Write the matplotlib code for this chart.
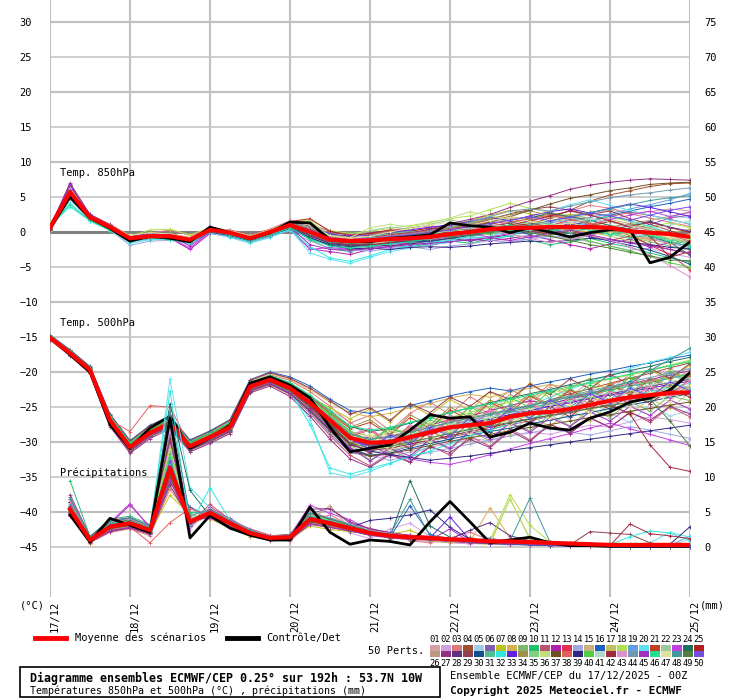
import numpy as np
import matplotlib
matplotlib.use("Agg")
import matplotlib.pyplot as plt
from matplotlib.lines import Line2D
from matplotlib.patches import Rectangle

# forecast steps (hours since 17/12 00Z)
hours = list(range(0, 193, 6))
precip_hours = hours[1:]
day_labels = ["17/12", "18/12", "19/12", "20/12", "21/12", "22/12", "23/12", "24/12", "25/12"]

# ---- Temp 850 hPa ----
t850_mean = [0.6, 5.7, 2.1, 0.7, -0.9, -0.6, -0.6, -1.1, 0.3, -0.1, -0.9, 0.0, 1.0, 0.0, -1.1, -1.3, -1.2,
             -1.0, -0.9, -0.7, -0.3, 0.0, 0.4, 0.6, 0.6, 0.7, 0.7, 0.7, 0.6, 0.1, -0.1, -0.3, -0.7]
t850_ctrl = [0.5, 5.0, 2.0, 0.5, -1.3, -0.6, -0.9, -1.4, 0.7, -0.1, -1.0, -0.1, 1.4, 1.3, -1.1, -1.4, -1.4,
             -0.9, -0.7, -0.4, 1.3, 0.9, 0.7, -0.1, 0.6, 0.0, -0.7, -0.1, 0.3, 0.3, -4.4, -3.6, -1.4]
t850_members = [
    [0.8, 6.0, 2.3, 0.9, -0.7, -0.4, -0.5, -1.0, 0.4, 0.0, -0.8, 0.2, 1.2, 0.3, -0.8, -1.0, -0.6, -0.2, 0.1, 0.5, 0.9, 1.2, 1.6, 1.9, 2.1, 2.0, 2.4, 2.8, 3.1, 2.7, 2.9, 3.3, 3.0],
    [0.4, 5.2, 1.9, 0.6, -1.1, -0.8, -0.9, -1.4, 0.1, -0.3, -1.2, -0.3, 0.6, -0.6, -1.9, -2.2, -2.0, -2.3, -1.9, -1.5, -1.2, -0.8, -0.9, -1.3, -1.0, -0.6, -0.9, -1.4, -2.0, -2.6, -2.3, -3.1, -3.6],
    [0.9, 6.3, 2.2, 0.8, -0.6, -0.2, 0.3, -0.5, 0.5, 0.2, -0.6, 0.1, 1.3, 0.6, -0.4, -0.7, -0.9, -0.4, -0.6, 0.2, 0.8, 0.5, 1.1, 1.8, 1.5, 2.2, 3.0, 3.8, 3.4, 2.6, 2.0, 1.4, 0.8],
    [0.3, 5.5, 2.0, 0.5, -1.2, -0.7, -0.8, -1.3, 0.2, -0.2, -1.0, -0.2, 0.9, -0.3, -1.5, -1.6, -1.8, -1.5, -1.7, -1.2, -0.9, -0.4, 0.0, 0.5, 1.1, 2.0, 3.1, 4.4, 5.3, 5.9, 6.5, 6.9, 7.0],
    [0.5, 4.6, 1.8, 0.4, -1.5, -1.0, -0.9, -1.2, 0.0, -0.4, -1.3, -0.5, 0.5, -0.8, -2.0, -2.4, -2.1, -1.8, -1.4, -1.6, -1.1, -0.7, -0.3, 0.1, -0.4, -0.9, -0.6, 0.2, 0.6, 1.2, 1.6, 2.3, 2.0],
    [0.7, 6.1, 2.2, 0.7, -0.9, -0.5, -0.4, -1.0, 0.6, 0.0, -0.7, 0.1, 1.1, 0.2, -0.9, -1.2, -1.3, -1.0, -0.8, -0.9, -0.2, 0.3, 0.2, 0.8, 1.3, 0.9, 1.4, 1.0, 0.6, 0.2, 1.1, 2.0, 2.4],
    [0.6, 5.8, 2.4, 1.0, -0.5, -0.1, -0.3, -0.8, 0.3, 0.1, -0.7, 0.3, 1.5, 0.8, -0.3, -0.6, -0.4, 0.0, -0.3, 0.4, 1.0, 1.6, 2.4, 3.1, 2.6, 2.1, 2.5, 1.9, 1.4, 0.9, 0.5, -0.3, -0.9],
    [1.0, 5.9, 2.1, 0.6, -0.8, -0.4, -0.2, -0.9, 0.4, 0.2, -0.5, 0.2, 1.4, 0.6, -0.7, -1.0, -0.8, -0.3, 0.2, -0.3, 0.4, 1.2, 1.9, 2.2, 1.7, 1.1, 0.4, -0.2, 0.3, -0.5, -1.2, -0.8, -1.5],
    [0.2, 5.4, 2.0, 0.8, -1.0, -0.6, -0.6, -1.2, 0.2, -0.1, -0.9, -0.1, 1.0, -0.2, -1.3, -1.5, -1.1, -1.4, -1.0, -0.6, -0.9, -0.5, 0.1, -0.3, -0.8, -0.4, 0.0, 0.5, -0.1, -0.7, -1.4, -2.0, -2.6],
    [0.7, 5.0, 2.3, 0.9, -0.7, -0.3, -0.7, -1.5, 0.1, -0.5, -1.1, 0.0, 0.7, -1.1, -2.4, -2.8, -2.2, -1.9, -2.1, -1.7, -1.3, -1.6, -1.0, -0.6, -1.2, -1.8, -1.4, -0.9, -1.6, -2.2, -3.0, -3.7, -4.3],
    [0.5, 6.4, 2.5, 1.1, -0.6, -0.2, -0.4, -1.1, 0.5, 0.3, -0.4, 0.4, 1.6, 1.1, 0.1, -0.4, -0.3, 0.2, 0.6, 0.9, 0.5, 0.9, 1.5, 1.2, 2.0, 2.6, 2.1, 1.5, 2.2, 2.8, 2.4, 1.8, 1.1],
    [0.4, 6.6, 2.2, 0.7, -1.3, -0.9, -0.9, -2.5, -0.2, -0.7, -1.4, -0.6, 0.3, -2.4, -2.8, -3.2, -2.5, -2.0, -1.6, -1.9, -1.4, -1.0, -1.3, -0.9, -0.5, -1.1, -1.8, -2.4, -1.7, -1.0, -2.2, -1.5, -2.0],
    [0.8, 5.6, 2.0, 0.5, -0.9, -0.5, -0.5, -1.0, 0.4, 0.0, -0.9, 0.2, 1.3, 0.5, -0.6, -0.8, -1.0, -0.6, -0.2, 0.3, 0.1, 0.6, 1.0, 0.7, 0.2, 0.9, 1.7, 1.2, 0.4, -0.4, -1.9, -3.2, -5.4],
    [0.1, 4.8, 1.6, 0.3, -1.9, -1.3, -1.2, -1.6, -0.1, -0.6, -1.5, -0.7, 0.2, -1.3, -2.3, -2.6, -2.7, -2.4, -2.1, -2.5, -2.0, -1.7, -1.2, -1.5, -1.0, -0.5, -0.9, -0.3, 0.4, -0.2, -0.8, -1.6, -2.3],
    [0.9, 6.2, 2.3, 0.9, -0.7, -0.3, -0.6, -1.1, 0.3, -0.1, -0.8, 0.1, 1.2, 0.4, -0.9, -1.1, -0.9, -0.5, -0.7, -0.2, 0.6, 1.3, 0.9, 0.4, 0.8, 1.4, 1.9, 2.5, 1.8, 1.2, 1.7, 2.2, 2.9],
    [0.6, 5.3, 2.1, 0.8, -0.8, -0.7, -0.5, -0.9, 0.7, 0.1, -0.6, 0.0, 0.8, -0.4, -1.5, -1.9, -2.0, -1.6, -1.3, -0.8, -0.4, 0.1, 0.5, 0.2, -0.3, 0.3, 0.9, 1.6, 2.4, 3.0, 3.6, 4.1, 4.7],
    [0.3, 5.7, 1.9, 0.6, -1.0, -0.6, -0.7, -1.3, 0.2, -0.3, -1.0, -0.2, 0.9, -0.1, -1.2, -1.4, -1.6, -1.1, -0.8, -1.2, -0.6, -0.2, 0.3, 0.9, 1.5, 1.0, 0.4, 0.0, -0.6, -1.3, -0.7, -0.1, 0.4],
    [1.2, 6.0, 2.4, 0.8, -0.6, 0.3, 0.4, -0.4, 0.6, 0.2, -0.5, 0.3, 1.5, 1.7, 0.2, -0.2, 0.1, 0.5, 0.9, 1.4, 1.9, 2.3, 3.2, 4.1, 3.4, 2.8, 2.2, 2.9, 2.1, 1.5, 0.7, 1.3, 0.6],
    [0.6, 5.9, 2.0, 0.7, -1.1, -0.8, -0.6, -1.0, 0.3, -0.2, -1.0, -0.1, 1.0, 0.1, -1.0, -1.4, -1.3, -1.1, -1.3, -0.9, -0.7, -0.4, -0.1, 0.4, 0.8, 1.3, 1.7, 2.1, 2.6, 3.3, 3.9, 4.6, 5.5],
    [0.5, 4.2, 1.5, 0.2, -1.6, -1.1, -1.0, -1.7, -0.1, -0.8, -1.6, -0.8, 0.4, -3.0, -3.9, -4.5, -3.6, -2.8, -2.3, -1.8, -1.5, -0.9, -0.6, 0.2, 1.6, 3.0, 3.9, 4.6, 3.8, 3.1, 2.4, 1.7, 1.2],
    [0.7, 5.5, 2.2, 0.6, -0.9, -0.5, -0.3, -0.8, 0.5, 0.1, -0.8, 0.1, 1.1, 0.3, -0.8, -1.1, -1.0, -0.7, -0.4, 0.0, 0.3, -0.2, 0.1, 0.6, 0.2, -0.3, 0.1, -0.6, -1.2, -0.6, -1.8, -2.5, -3.1],
    [0.4, 6.1, 2.1, 0.9, -0.7, -0.6, -0.6, -1.2, 0.3, 0.0, -0.9, 0.0, 1.3, 1.5, -0.4, -0.8, 0.2, 0.7, 0.4, 1.1, 1.7, 1.3, 2.0, 1.4, 0.9, 1.5, 2.1, 1.6, 1.0, 0.4, -0.2, -0.9, -1.4],
    [0.6, 5.8, 2.0, 0.7, -1.0, -0.6, -0.8, -2.3, 0.0, -0.5, -1.2, -0.4, 0.6, -2.5, -2.2, -2.5, -2.3, -1.8, -1.5, -1.1, -0.8, -0.3, -0.7, -0.2, 0.5, 1.0, 0.6, 1.1, 1.8, 2.4, 3.0, 2.2, 2.8],
    [0.2, 5.1, 1.8, 0.5, -1.3, -0.9, -0.8, -1.3, 0.1, -0.3, -1.1, -0.3, 0.7, -0.5, -1.7, -1.9, -1.5, -1.2, -1.5, -1.1, -0.6, 0.1, 0.7, 1.3, 2.0, 2.7, 2.2, 1.7, 0.9, 0.3, -0.6, -1.5, -3.3],
    [0.8, 6.5, 2.3, 0.8, -0.8, -0.3, -0.5, -1.0, 0.4, 0.1, -0.7, 0.2, 1.5, 1.9, 0.1, -0.5, -0.2, 0.3, 0.1, 0.6, 0.2, 0.7, 1.3, 0.8, 1.2, 0.7, 0.2, 0.9, 1.5, 0.8, 1.4, 0.6, 0.0],
    [0.5, 5.4, 2.0, 0.6, -1.0, -0.7, -0.6, -1.1, 0.2, -0.2, -1.0, -0.1, 0.9, -0.3, -1.4, -1.7, -1.6, -1.3, -1.0, -0.7, -1.0, -0.6, -0.2, 0.3, -0.1, -0.6, -1.1, -0.5, 0.2, -0.4, -1.0, -1.7, -1.2],
    [0.7, 7.0, 2.5, 1.0, -0.7, -0.4, -0.5, -1.0, 0.5, 0.0, -0.8, 0.1, 1.3, 0.5, -0.7, -1.0, -0.8, -0.4, -0.1, 0.4, 1.2, 1.8, 2.5, 3.5, 4.4, 5.2, 6.1, 6.7, 7.1, 7.4, 7.6, 7.5, 7.4],
    [0.3, 6.7, 2.1, 0.7, -1.1, -0.7, -0.8, -1.3, 0.1, -0.4, -1.1, -0.3, 0.8, -0.6, -1.6, -2.0, -1.7, -2.0, -1.7, -1.3, -0.9, -1.3, -0.8, -0.4, 0.1, 0.6, 1.2, 0.8, 0.3, 0.9, 1.5, 0.7, 0.1],
    [0.6, 5.6, 2.2, 0.8, -0.9, -0.5, -0.6, -1.1, 0.3, -0.1, -0.9, 0.0, 1.0, 0.3, -0.9, -1.2, -1.1, -0.8, -0.5, -0.2, 0.4, 1.0, 1.8, 2.6, 3.2, 3.6, 3.1, 2.5, 3.0, 1.9, 1.1, 0.2, -0.8],
    [0.4, 5.2, 1.9, 0.5, -1.2, -0.9, -0.9, -1.4, 0.0, -0.5, -1.3, -0.5, 0.5, -0.9, -1.8, -2.1, -1.9, -1.6, -1.2, -1.4, -0.9, -0.5, -0.1, 0.3, 0.7, 0.4, -0.2, -0.7, -1.3, -1.9, -2.6, -3.5, -4.6],
    [0.8, 5.9, 2.1, 0.7, -0.8, -0.4, -0.3, -0.9, 0.4, 0.0, -0.7, 0.1, 1.2, 0.6, -0.5, -0.9, -0.7, -0.2, 0.1, -0.4, 0.1, 0.5, -0.2, 0.3, 0.9, 0.5, -0.1, 0.6, -0.3, -0.9, -0.4, -1.1, -1.8],
    [0.9, 3.6, 1.6, 0.4, -1.4, -0.9, -1.1, -1.6, 0.0, -0.6, -1.4, -0.5, 0.3, -2.1, -3.7, -4.2, -3.4, -2.5, -2.0, -1.5, -1.2, -0.6, -1.0, -0.5, 0.4, 1.1, 0.6, 1.5, 2.3, 1.6, 0.8, -0.2, -1.0],
    [0.5, 6.2, 2.4, 0.9, -0.6, -0.2, -0.4, -0.9, 0.5, 0.1, -0.6, 0.2, 1.4, 0.9, -0.3, -0.6, -0.5, -0.1, 0.3, 0.7, 1.0, 1.5, 2.1, 1.6, 2.3, 2.9, 3.3, 2.7, 3.4, 4.0, 3.5, 2.9, 2.2],
    [0.6, 5.5, 2.0, 0.6, -1.0, -0.6, -0.7, -1.2, 0.3, -0.2, -1.0, -0.2, 0.9, -0.2, -1.2, -1.4, -1.3, -0.9, -0.6, -0.2, 0.5, 1.2, 1.9, 2.5, 3.0, 2.4, 1.8, 1.3, 0.7, 1.2, 0.5, -0.1, -0.6],
    [0.7, 5.8, 2.2, 0.8, -0.8, -0.5, -0.5, -1.0, 0.4, 0.0, -0.8, 0.1, 1.1, 0.2, -1.0, -1.2, -1.2, -0.9, -1.1, -0.6, -0.3, 0.2, 0.6, 0.2, 0.7, 1.2, 0.8, 0.3, -0.2, 0.4, -0.3, -1.0, -1.6],
    [0.2, 6.3, 2.3, 0.9, -0.8, -0.4, -0.6, -1.1, 0.2, -0.1, -0.9, 0.0, 1.2, 1.6, -0.7, -0.8, 0.6, 1.1, 0.7, 1.3, 2.0, 2.9, 2.3, 1.8, 1.1, 0.6, 0.2, 0.8, 0.3, -0.3, 0.2, -0.5, -1.1],
    [0.5, 5.7, 2.1, 0.7, -0.9, -0.6, -0.6, -1.1, 0.3, -0.1, -0.9, 0.0, 1.0, 0.1, -1.1, -1.3, -1.2, -1.0, -0.8, -0.5, 0.1, 0.7, 1.4, 2.2, 3.1, 4.0, 4.8, 5.3, 5.9, 6.3, 6.8, 7.0, 7.1],
    [0.8, 6.0, 2.2, 0.8, -0.7, -0.4, -0.4, -0.9, 0.4, 0.0, -0.7, 0.1, 1.1, 0.4, -0.8, -1.0, -0.9, -0.5, -0.2, 0.2, 0.6, 0.3, 0.8, 1.4, 1.9, 2.4, 1.8, 1.1, 1.6, 0.9, 0.2, -0.5, -1.3],
    [0.4, 5.3, 1.9, 0.5, -1.2, -0.8, -0.9, -1.4, 0.0, -0.5, -1.2, -0.4, 0.6, -0.8, -1.9, -2.4, -2.3, -2.5, -2.2, -2.1, -2.2, -2.0, -1.7, -1.5, -1.3, -1.4, -1.2, -0.9, -1.1, -1.5, -1.8, -2.2, -2.4],
    [0.6, 5.6, 2.0, 0.6, -1.0, -0.6, -0.7, -1.2, 0.2, -0.2, -1.0, -0.1, 0.9, 0.0, -1.2, -1.5, -1.4, -1.2, -0.9, -0.6, -0.2, 0.1, -0.3, 0.2, 0.6, -0.1, -0.7, -1.3, -2.0, -2.7, -3.5, -4.4, -5.0],
    [0.7, 5.9, 2.1, 0.7, -0.9, -0.5, -0.6, -1.1, 0.3, -0.1, -0.9, 0.0, 1.0, 0.2, -1.0, -1.3, -1.1, -0.8, -0.6, -0.3, 0.2, 0.6, 1.1, 0.7, 0.3, 0.8, 1.3, 1.9, 1.4, 0.9, 0.4, 1.0, 1.6],
    [0.3, 5.4, 1.9, 0.6, -1.1, -0.7, -0.8, -1.3, 0.1, -0.3, -1.1, -0.3, 0.8, -0.4, -1.5, -1.8, -1.9, -1.5, -1.2, -0.8, -0.5, -0.1, 0.4, 1.0, 1.6, 2.3, 3.0, 2.4, 1.6, 0.7, -0.6, -3.6, -2.8],
    [0.6, 5.7, 2.0, 0.7, -1.0, -0.6, -0.6, -1.1, 0.2, -0.1, -0.9, 0.0, 1.0, -0.1, -1.2, -1.4, -1.3, -1.0, -0.7, -1.0, -0.6, -0.2, 0.2, -0.3, -0.9, -1.5, -1.0, -0.5, -1.2, -2.1, -3.3, -4.8, -6.4],
    [0.5, 5.6, 2.0, 0.6, -1.0, -0.6, -0.6, -1.1, 0.3, -0.1, -0.9, 0.0, 0.9, 0.0, -1.0, -1.2, -0.9, -0.6, -0.3, 0.1, 0.7, 1.4, 2.2, 3.0, 3.3, 3.0, 3.7, 4.3, 4.9, 5.3, 5.6, 6.0, 6.3],
    [0.7, 6.8, 2.3, 0.8, -0.8, -0.6, -0.5, -2.0, 0.1, -0.4, -1.2, -0.4, 0.7, -1.8, -2.5, -2.6, -2.4, -2.1, -1.8, -1.6, -1.4, -1.1, -0.8, -1.2, -0.7, -0.2, 0.3, -0.4, -1.0, -1.6, -2.0, -2.5, -3.0],
    [0.9, 3.9, 1.7, 0.3, -1.3, -0.8, -1.0, -1.5, 0.1, -0.4, -1.2, -0.4, 0.6, -1.0, -2.0, -2.3, -2.0, -1.7, -1.4, -0.9, -0.5, 0.0, 0.5, 1.0, 0.6, 0.1, 0.7, 0.3, -0.4, 0.2, -0.5, -1.3, -2.1],
    [0.6, 5.8, 2.2, 0.9, -0.5, -0.1, -0.3, -0.8, 0.5, 0.2, -0.6, 0.3, 1.4, 1.0, -0.5, -0.9, -0.6, 0.0, 0.5, 1.0, 1.4, 1.0, 1.6, 2.1, 1.5, 0.9, 1.3, 0.6, 0.0, 0.5, -0.1, -0.8, -0.3],
    [0.4, 5.5, 2.0, 0.6, -1.1, -0.7, -0.7, -1.2, 0.2, -0.3, -1.0, -0.2, 0.8, -0.3, -1.4, -1.6, -1.4, -1.1, -1.3, -0.8, -0.3, 0.3, 0.0, 0.5, 1.0, 1.6, 2.2, 2.8, 3.3, 3.9, 4.5, 4.9, 5.2],
    [0.5, 5.6, 2.1, 0.7, -0.9, -0.5, -0.6, -1.1, 0.3, -0.1, -0.9, 0.0, 1.0, 0.1, -1.0, -1.3, -1.1, -0.9, -0.6, -0.3, -0.7, -0.4, 0.0, 0.4, -0.1, -0.6, -1.2, -1.8, -2.3, -2.9, -3.4, -4.0, -4.1],
    [0.6, 6.0, 2.2, 0.8, -0.8, -0.5, -0.5, -1.0, 0.4, 0.0, -0.8, 0.1, 1.1, 0.3, -0.9, -1.1, -1.0, -0.7, -0.4, -0.1, 0.3, 0.8, 1.2, 1.7, 2.2, 1.6, 2.1, 2.7, 2.3, 1.7, 2.4, 3.1, 3.6],
]

# ---- Temp 500 hPa ----
t500_mean = [-15.1, -17.3, -19.7, -26.9, -30.7, -28.7, -27.3, -30.6, -29.3, -27.9, -22.1, -21.1, -22.3, -24.4, -26.9, -29.4, -30.1,
             -30.0, -29.3, -28.6, -27.9, -27.6, -27.3, -26.4, -25.9, -25.7, -25.3, -24.7, -24.1, -23.6, -23.3, -23.0, -22.9]
t500_ctrl = [-15.0, -17.5, -20.0, -27.5, -30.9, -28.0, -26.3, -30.9, -29.4, -27.6, -21.6, -20.7, -21.9, -23.7, -27.9, -31.4, -30.9,
             -30.4, -28.3, -26.1, -26.6, -26.4, -29.3, -28.6, -27.3, -28.0, -28.3, -26.6, -25.7, -24.3, -23.7, -22.6, -20.1]
t500_members = [
    [-15.0, -17.1, -19.5, -26.5, -30.4, -28.3, -27.0, -30.2, -29.0, -27.5, -21.8, -20.8, -21.9, -23.8, -25.4, -27.1, -29.6, -28.0, -28.9, -26.3, -27.4, -24.9, -25.8, -23.2, -24.6, -22.1, -23.5, -21.4, -22.6, -20.3, -21.7, -19.6, -20.4],
    [-15.3, -17.6, -20.0, -27.4, -31.2, -29.1, -27.8, -31.1, -29.8, -28.4, -22.7, -21.6, -23.0, -25.4, -28.2, -30.9, -31.8, -32.1, -31.4, -30.8, -30.1, -29.5, -29.8, -29.1, -28.6, -28.9, -28.2, -27.6, -27.9, -27.1, -26.4, -26.8, -27.3],
    [-14.9, -17.0, -19.4, -26.3, -30.1, -27.9, -26.6, -30.0, -28.7, -27.1, -21.5, -20.4, -21.2, -22.8, -24.9, -27.3, -26.2, -28.4, -25.9, -24.3, -26.1, -23.5, -25.2, -22.4, -24.1, -21.7, -23.0, -24.6, -21.9, -20.7, -22.8, -19.9, -21.5],
    [-15.2, -17.4, -19.8, -27.1, -30.9, -28.9, -27.5, -30.8, -29.5, -28.1, -22.3, -21.3, -22.6, -24.9, -27.5, -29.9, -30.6, -30.4, -29.7, -28.9, -28.1, -27.5, -26.7, -25.8, -24.9, -24.0, -23.1, -22.4, -21.6, -20.9, -20.2, -19.4, -18.7],
    [-15.1, -17.3, -19.6, -26.8, -30.6, -28.6, -27.2, -30.5, -29.2, -27.8, -22.0, -21.0, -22.2, -24.2, -26.7, -29.1, -31.2, -29.3, -30.4, -28.2, -29.9, -27.1, -28.6, -26.0, -27.5, -25.1, -26.8, -24.3, -25.9, -27.2, -24.6, -26.3, -25.5],
    [-15.0, -17.2, -19.7, -27.0, -31.0, -28.8, -27.4, -30.7, -29.6, -28.2, -22.4, -21.4, -22.9, -25.6, -28.8, -31.5, -32.0, -31.4, -30.6, -29.8, -29.3, -28.7, -28.2, -27.5, -27.0, -26.3, -25.8, -25.2, -24.6, -23.9, -23.4, -22.7, -22.1],
    [-15.4, -17.5, -19.9, -27.3, -31.1, -29.0, -27.7, -30.9, -29.7, -28.3, -22.5, -21.5, -22.4, -23.6, -25.1, -26.7, -25.3, -27.1, -24.6, -26.2, -23.9, -25.5, -22.8, -24.4, -21.6, -23.7, -22.2, -20.9, -22.8, -21.3, -19.7, -21.2, -19.0],
    [-14.8, -16.9, -19.3, -26.2, -30.0, -27.8, -26.5, -29.9, -28.6, -27.0, -21.3, -20.2, -21.0, -22.5, -24.3, -25.8, -26.4, -25.9, -25.1, -24.5, -23.7, -23.2, -23.6, -22.9, -22.3, -21.8, -22.2, -21.5, -21.0, -20.4, -19.8, -19.1, -18.5],
    [-15.2, -17.4, -19.8, -27.2, -31.0, -28.9, -27.6, -30.8, -29.4, -28.0, -22.2, -21.2, -22.5, -24.7, -27.3, -30.2, -32.6, -31.0, -32.4, -29.6, -31.1, -28.5, -29.8, -27.2, -28.4, -26.1, -27.7, -25.3, -26.5, -24.2, -25.6, -23.4, -24.1],
    [-15.1, -17.3, -19.7, -26.9, -30.7, -28.7, -27.3, -30.6, -29.3, -27.9, -22.1, -21.1, -22.3, -24.5, -27.0, -29.6, -30.4, -30.1, -29.4, -28.6, -27.8, -27.2, -26.5, -25.7, -25.1, -24.5, -23.9, -23.2, -22.6, -22.0, -21.5, -20.9, -20.3],
    [-15.3, -17.6, -20.1, -27.6, -31.4, -29.3, -27.9, -31.2, -30.0, -28.6, -22.8, -21.8, -23.2, -25.9, -29.1, -31.9, -33.4, -31.6, -32.8, -30.5, -31.9, -29.2, -30.6, -28.1, -29.7, -27.4, -28.8, -26.5, -27.9, -25.7, -27.2, -25.0, -26.4],
    [-14.9, -17.1, -19.5, -26.6, -30.4, -28.4, -27.1, -30.4, -29.1, -27.6, -21.9, -20.9, -22.0, -24.0, -26.4, -28.8, -29.5, -29.2, -28.4, -27.6, -26.8, -26.3, -25.5, -24.8, -24.1, -24.6, -23.8, -23.1, -22.4, -21.7, -21.1, -20.4, -19.8],
    [-15.0, -17.2, -19.6, -26.8, -30.5, -28.5, -27.2, -30.5, -29.2, -27.7, -22.0, -21.0, -22.1, -24.1, -26.6, -29.0, -28.1, -30.2, -27.6, -29.1, -26.4, -28.0, -25.3, -26.9, -24.6, -26.2, -23.8, -25.4, -23.0, -24.6, -22.3, -23.7, -21.8],
    [-15.2, -17.5, -20.0, -27.5, -31.3, -29.2, -27.9, -31.0, -29.9, -28.5, -22.6, -21.7, -23.1, -25.7, -28.5, -31.2, -31.9, -32.6, -32.0, -31.5, -30.9, -30.3, -29.7, -29.1, -28.7, -28.1, -28.6, -29.0, -28.4, -27.8, -28.3, -28.9, -29.5],
    [-15.1, -17.3, -19.8, -27.0, -30.8, -28.8, -27.4, -30.7, -29.4, -28.0, -22.2, -21.2, -22.4, -24.4, -26.8, -29.3, -30.6, -28.7, -29.9, -27.3, -28.8, -26.2, -27.6, -25.0, -26.7, -24.3, -25.8, -23.5, -24.9, -22.6, -24.2, -21.8, -23.4],
    [-14.7, -16.8, -19.2, -26.0, -29.8, -27.6, -26.3, -29.7, -28.4, -26.8, -21.1, -20.0, -20.7, -22.0, -23.9, -25.5, -25.9, -25.2, -24.8, -24.1, -23.4, -22.8, -22.3, -22.7, -22.0, -21.4, -20.9, -20.3, -19.8, -19.2, -18.7, -18.1, -17.6],
    [-15.3, -17.5, -19.9, -27.3, -31.1, -29.0, -27.6, -30.9, -29.6, -28.2, -22.4, -21.4, -22.8, -25.2, -27.9, -30.5, -29.4, -31.6, -29.0, -30.8, -28.1, -29.7, -27.0, -28.9, -26.2, -27.8, -25.4, -27.0, -24.5, -26.1, -23.8, -25.2, -22.9],
    [-15.0, -17.2, -19.6, -26.7, -30.5, -28.5, -27.1, -30.4, -29.1, -27.6, -21.9, -20.9, -22.0, -23.9, -26.2, -28.5, -29.2, -28.8, -28.0, -27.3, -26.5, -25.8, -25.0, -24.3, -23.6, -22.9, -22.3, -21.6, -21.0, -20.4, -19.7, -19.0, -18.3],
    [-15.1, -17.4, -19.7, -26.9, -30.8, -28.7, -27.3, -30.6, -29.3, -27.9, -22.1, -21.1, -22.3, -24.3, -26.8, -29.4, -31.0, -28.9, -30.2, -27.6, -29.0, -26.4, -27.8, -25.1, -26.5, -23.9, -25.2, -22.6, -24.0, -21.4, -22.9, -20.3, -21.5],
    [-15.2, -17.5, -19.9, -27.2, -31.0, -28.9, -27.5, -30.8, -29.5, -28.1, -22.3, -21.3, -22.7, -26.8, -34.4, -35.0, -34.2, -33.1, -31.9, -30.6, -29.4, -28.2, -27.1, -26.0, -24.8, -23.6, -22.5, -21.4, -20.4, -19.5, -18.6, -17.9, -17.2],
    [-15.0, -17.1, -19.5, -26.5, -30.3, -28.2, -26.9, -30.3, -29.0, -27.4, -21.7, -20.7, -21.8, -23.6, -25.9, -28.1, -27.2, -29.0, -26.5, -28.1, -25.4, -26.9, -24.3, -25.8, -23.4, -24.9, -22.6, -24.0, -21.8, -23.3, -21.0, -22.4, -20.6],
    [-15.3, -17.6, -20.0, -27.4, -31.2, -29.1, -27.7, -31.0, -29.7, -28.3, -22.6, -21.6, -23.0, -25.3, -27.9, -30.7, -31.5, -31.2, -30.5, -29.8, -29.1, -28.5, -27.9, -27.3, -26.8, -26.2, -25.7, -25.3, -24.8, -24.3, -23.9, -23.4, -22.9],
    [-15.1, -17.3, -19.8, -27.0, -30.9, -28.8, -27.4, -30.7, -29.4, -28.0, -22.2, -21.2, -22.5, -24.6, -27.2, -29.8, -30.6, -31.7, -32.4, -32.9, -33.2, -32.6, -31.8, -31.0, -30.2, -29.5, -28.8, -28.0, -27.3, -28.1, -28.9, -29.7, -30.5],
    [-14.9, -17.0, -19.4, -26.4, -30.2, -28.1, -26.8, -30.1, -28.8, -27.3, -21.6, -20.6, -21.6, -23.4, -25.6, -27.8, -28.5, -28.1, -27.3, -26.5, -25.8, -25.1, -24.4, -23.7, -23.1, -22.5, -21.8, -21.1, -20.5, -19.8, -19.2, -18.5, -17.9],
    [-15.2, -17.4, -19.8, -27.1, -30.9, -28.9, -27.5, -30.8, -29.5, -28.1, -22.3, -21.3, -22.6, -24.8, -27.4, -30.0, -31.6, -29.6, -30.9, -28.4, -29.8, -27.1, -28.5, -26.0, -27.3, -24.9, -26.4, -24.1, -25.3, -23.2, -24.5, -22.4, -23.6],
    [-15.0, -17.2, -19.6, -26.8, -30.6, -28.6, -27.2, -30.5, -29.2, -27.8, -22.0, -21.0, -22.2, -24.2, -26.5, -28.9, -29.6, -29.3, -28.6, -27.9, -27.1, -26.5, -25.9, -25.3, -24.7, -24.1, -23.5, -22.9, -22.4, -21.8, -21.3, -20.7, -20.2],
    [-15.4, -17.7, -20.2, -27.8, -31.6, -29.5, -28.1, -31.4, -30.2, -28.8, -23.0, -22.0, -23.5, -26.3, -29.6, -32.4, -33.6, -31.8, -32.9, -30.7, -31.5, -29.6, -30.8, -28.4, -29.9, -27.5, -28.7, -26.6, -27.9, -25.8, -26.9, -24.9, -26.0],
    [-15.1, -17.3, -19.7, -26.9, -30.7, -28.7, -27.3, -30.6, -29.3, -27.9, -22.1, -21.1, -22.4, -24.5, -27.1, -29.7, -30.5, -30.2, -29.5, -28.8, -28.1, -27.4, -26.8, -26.1, -25.5, -24.8, -24.2, -23.7, -23.1, -22.6, -22.0, -21.5, -21.0],
    [-14.8, -16.9, -19.3, -26.1, -29.9, -27.7, -26.4, -29.8, -28.5, -26.9, -21.2, -20.1, -20.9, -22.3, -24.1, -26.0, -25.1, -26.9, -24.5, -25.8, -23.6, -24.9, -22.8, -23.9, -21.7, -23.2, -21.0, -22.4, -20.3, -21.8, -19.5, -20.9, -18.8],
    [-15.3, -17.5, -20.0, -27.4, -31.2, -29.1, -27.8, -31.1, -29.8, -28.4, -22.7, -21.6, -23.0, -25.5, -28.3, -31.0, -31.9, -31.6, -30.9, -30.2, -29.6, -29.0, -28.5, -28.0, -27.4, -26.9, -26.3, -25.8, -25.2, -24.7, -24.2, -23.6, -23.1],
    [-15.0, -17.2, -19.6, -26.7, -30.5, -28.4, -27.1, -30.4, -29.1, -27.6, -21.9, -20.9, -21.9, -23.8, -26.1, -28.4, -29.9, -28.0, -29.1, -26.8, -28.2, -25.9, -27.0, -24.6, -26.1, -23.9, -25.0, -23.0, -24.3, -22.1, -23.5, -21.4, -22.5],
    [-15.2, -17.4, -19.9, -27.1, -31.0, -28.9, -27.5, -30.8, -29.5, -28.2, -22.4, -21.4, -22.8, -27.5, -33.7, -34.6, -33.8, -33.0, -32.1, -31.3, -30.2, -29.1, -28.3, -27.4, -26.6, -25.9, -25.2, -24.6, -24.0, -23.4, -22.8, -22.2, -21.6],
    [-15.1, -17.3, -19.7, -26.9, -30.7, -28.7, -27.3, -30.6, -29.3, -27.9, -22.1, -21.1, -22.3, -24.4, -26.9, -29.5, -30.3, -30.0, -29.3, -28.6, -27.9, -27.3, -26.7, -26.1, -25.5, -24.9, -24.4, -23.8, -23.3, -22.8, -22.3, -21.8, -21.3],
    [-14.9, -17.0, -19.4, -26.4, -30.2, -28.2, -26.8, -30.2, -28.9, -27.4, -21.6, -20.6, -21.7, -23.5, -25.7, -27.9, -26.8, -28.9, -26.1, -27.6, -25.0, -26.5, -24.0, -25.4, -23.1, -24.7, -22.4, -23.9, -21.6, -23.0, -20.8, -22.1, -20.0],
    [-15.2, -17.5, -19.9, -27.3, -31.1, -29.0, -27.6, -30.9, -29.6, -28.2, -22.4, -21.4, -22.7, -25.0, -27.7, -30.3, -31.1, -30.8, -30.1, -29.4, -28.7, -28.1, -27.5, -26.9, -26.3, -25.7, -25.1, -24.5, -24.0, -23.5, -23.0, -22.5, -22.0],
    [-15.0, -17.2, -19.6, -26.7, -30.5, -28.5, -27.1, -30.4, -29.1, -27.7, -21.9, -20.9, -22.0, -24.0, -26.3, -28.6, -30.1, -28.3, -29.4, -27.2, -28.5, -26.0, -27.2, -25.1, -26.4, -24.2, -25.6, -23.3, -24.7, -22.5, -23.8, -21.6, -22.9],
    [-15.3, -17.6, -20.1, -27.5, -31.3, -29.2, -27.8, -31.1, -29.9, -28.5, -22.7, -21.7, -23.1, -25.6, -28.4, -31.2, -32.0, -31.7, -31.1, -30.5, -29.9, -29.4, -28.9, -28.4, -27.9, -27.5, -27.0, -26.5, -26.1, -25.6, -25.2, -24.7, -24.3],
    [-15.1, -17.3, -19.7, -26.9, -28.5, -24.8, -25.0, -30.6, -29.3, -27.9, -22.1, -21.1, -22.3, -24.3, -26.7, -29.2, -28.3, -30.4, -27.8, -29.3, -26.7, -28.1, -25.5, -27.0, -24.4, -25.9, -23.5, -25.0, -22.7, -24.1, -21.8, -23.3, -21.0],
    [-15.2, -17.4, -19.8, -27.0, -30.9, -28.8, -27.4, -30.7, -29.4, -28.0, -22.2, -21.2, -22.6, -24.8, -27.5, -30.3, -31.3, -31.8, -32.2, -32.6, -32.3, -32.0, -31.6, -31.2, -30.8, -30.4, -30.0, -29.6, -29.2, -28.8, -28.4, -28.0, -27.6],
    [-14.9, -17.1, -19.5, -26.6, -30.4, -28.3, -27.0, -30.3, -29.0, -27.5, -21.8, -20.8, -21.9, -23.9, -26.2, -28.6, -30.3, -27.8, -29.2, -26.4, -27.7, -25.0, -26.3, -23.6, -25.1, -22.7, -24.0, -21.8, -23.1, -20.7, -22.2, -19.9, -21.0],
    [-15.1, -17.3, -19.7, -26.9, -30.7, -28.7, -27.3, -30.6, -29.3, -27.9, -22.1, -21.1, -22.3, -24.4, -26.8, -29.4, -30.1, -29.8, -29.1, -28.4, -27.7, -27.1, -26.5, -25.9, -25.3, -24.7, -24.1, -23.5, -22.9, -22.4, -21.9, -21.4, -20.9],
    [-15.2, -17.5, -19.9, -27.2, -31.0, -28.9, -27.5, -30.8, -29.6, -28.2, -22.4, -21.4, -22.7, -25.1, -27.8, -30.4, -31.2, -30.9, -30.3, -29.7, -29.1, -28.5, -27.9, -27.3, -26.7, -26.2, -25.7, -25.2, -24.7, -26.0, -30.4, -33.6, -34.2],
    [-15.0, -17.2, -19.6, -26.8, -30.6, -28.6, -27.2, -30.5, -29.2, -27.8, -22.0, -21.0, -22.2, -24.2, -26.6, -29.0, -28.0, -30.1, -27.5, -29.0, -26.3, -27.9, -25.4, -26.8, -24.5, -25.9, -23.6, -25.1, -22.8, -24.3, -22.0, -23.5, -21.2],
    [-15.1, -17.3, -19.7, -26.9, -30.7, -28.7, -27.3, -30.6, -29.3, -27.9, -22.1, -21.1, -22.3, -24.4, -26.9, -29.3, -30.0, -29.7, -29.0, -28.3, -27.6, -26.9, -26.2, -25.5, -24.8, -24.1, -23.4, -22.7, -22.1, -21.4, -20.8, -20.1, -19.5],
    [-15.3, -17.6, -20.0, -27.4, -31.2, -29.1, -27.7, -31.0, -29.8, -28.4, -22.6, -21.6, -23.0, -25.4, -28.1, -30.8, -32.7, -30.9, -32.0, -29.6, -30.9, -28.4, -29.5, -27.3, -28.6, -26.5, -27.8, -25.7, -27.0, -24.9, -26.2, -24.0, -25.3],
    [-14.8, -17.0, -19.4, -26.3, -30.1, -28.0, -26.7, -30.0, -28.7, -27.2, -21.5, -20.5, -21.5, -23.3, -25.5, -27.7, -28.3, -27.9, -27.2, -26.5, -25.8, -25.1, -24.5, -23.9, -23.3, -22.7, -22.1, -21.5, -20.9, -20.3, -19.7, -19.1, -18.5],
    [-15.1, -17.4, -19.8, -27.0, -30.8, -28.8, -27.4, -30.7, -29.4, -28.0, -22.2, -21.2, -22.5, -24.6, -27.2, -29.9, -28.9, -31.2, -28.6, -30.0, -27.4, -28.9, -26.3, -27.7, -25.2, -26.6, -24.5, -25.9, -23.7, -25.0, -22.8, -24.3, -21.9],
    [-15.0, -17.2, -19.6, -26.7, -30.5, -28.5, -27.1, -30.4, -29.1, -27.7, -21.9, -20.9, -22.1, -24.1, -26.5, -28.9, -29.6, -29.3, -28.6, -27.9, -27.2, -26.6, -26.0, -25.4, -24.8, -24.2, -23.6, -23.0, -22.4, -21.3, -19.8, -18.2, -16.6],
    [-15.2, -17.4, -19.8, -27.1, -30.9, -28.8, -27.4, -30.7, -29.5, -28.1, -22.3, -21.3, -22.6, -24.7, -27.3, -30.1, -30.9, -30.6, -30.0, -29.4, -28.8, -28.2, -27.7, -27.2, -26.7, -26.2, -25.7, -25.2, -24.8, -24.3, -23.9, -27.0, -30.6],
    [-15.1, -17.3, -19.7, -26.9, -30.7, -28.7, -27.3, -30.6, -29.3, -27.9, -22.1, -21.1, -22.3, -24.4, -26.9, -29.4, -31.1, -29.0, -30.3, -27.9, -29.2, -26.5, -27.9, -25.2, -26.6, -24.0, -25.5, -23.1, -24.4, -22.3, -23.6, -21.4, -22.7],
]

# ---- Precipitation (mm, from +6h) ----
rr_mean = [5.4, 1.0, 2.9, 3.4, 2.4, 11.3, 3.6, 4.9, 3.4, 2.0, 1.3, 1.4, 4.0, 3.4, 2.7, 2.0,
           1.6, 1.4, 1.3, 1.1, 1.0, 0.8, 0.8, 0.7, 0.6, 0.5, 0.4, 0.3, 0.3, 0.3, 0.3, 0.3]
rr_ctrl = [4.6, 0.7, 4.1, 3.1, 2.1, 18.4, 1.3, 4.5, 2.7, 1.7, 1.0, 1.0, 5.7, 2.1, 0.4, 1.0,
           0.8, 0.3, 3.6, 6.5, 3.6, 0.6, 1.0, 1.4, 0.6, 0.2, 0.2, 0.1, 0.1, 0.1, 0.1, 0.1]
rr_members = [
    [5.1, 0.9, 2.6, 3.0, 2.1, 10.2, 3.1, 4.5, 3.0, 1.6, 0.9, 1.0, 3.2, 2.8, 2.4, 1.6, 1.3, 1.0, 0.8, 0.6, 0.5, 0.4, 0.3, 0.3, 0.2, 0.2, 0.1, 0.1, 0.1, 0.0, 0.0, 0.0],
    [6.2, 1.2, 3.5, 4.1, 2.8, 14.5, 2.5, 5.6, 3.8, 2.2, 1.1, 1.7, 5.1, 3.9, 2.0, 1.2, 2.6, 3.4, 1.5, 0.7, 0.4, 0.9, 1.2, 0.6, 0.3, 0.2, 0.1, 0.3, 0.2, 0.1, 0.0, 0.1],
    [4.4, 0.6, 2.1, 2.6, 1.6, 8.3, 4.2, 4.1, 2.9, 2.5, 1.5, 0.8, 3.6, 4.6, 3.1, 2.7, 1.9, 0.9, 0.6, 1.3, 2.1, 1.0, 0.5, 0.4, 0.3, 0.6, 0.4, 0.2, 0.1, 0.2, 0.1, 0.0],
    [5.8, 1.4, 3.1, 3.5, 2.6, 12.7, 3.8, 5.2, 3.6, 2.1, 1.4, 1.6, 4.4, 3.0, 2.6, 2.3, 1.2, 1.7, 1.0, 0.8, 1.4, 0.6, 0.9, 0.5, 0.4, 0.3, 0.2, 0.1, 0.3, 0.1, 0.2, 0.0],
    [5.0, 0.8, 2.4, 2.9, 2.4, 9.6, 3.3, 4.6, 3.2, 1.8, 1.2, 1.3, 3.9, 3.2, 2.9, 2.1, 1.5, 1.1, 1.6, 1.2, 0.7, 0.5, 0.4, 0.7, 0.5, 0.3, 0.2, 0.1, 0.0, 0.1, 0.2, 1.1],
    [7.1, 1.1, 3.7, 4.0, 2.2, 16.3, 3.0, 5.3, 4.1, 2.4, 1.6, 1.2, 4.8, 5.5, 3.4, 2.6, 2.1, 1.6, 1.3, 1.0, 0.9, 1.3, 0.7, 0.5, 0.3, 0.2, 0.1, 0.2, 0.1, 0.0, 0.1, 0.0],
    [4.8, 0.5, 2.8, 3.3, 2.0, 7.4, 4.6, 4.0, 2.7, 1.5, 1.0, 1.1, 3.0, 2.5, 2.2, 1.9, 1.8, 2.4, 1.2, 0.9, 0.6, 0.4, 6.9, 1.1, 0.4, 0.3, 0.2, 0.1, 0.1, 0.0, 0.0, 0.0],
    [5.6, 1.0, 3.0, 3.6, 2.5, 11.8, 3.5, 4.8, 3.3, 2.0, 1.3, 1.5, 4.1, 3.6, 2.8, 2.4, 1.4, 1.2, 0.9, 0.7, 0.8, 5.6, 1.3, 0.6, 0.4, 0.3, 0.2, 0.1, 0.1, 0.1, 0.0, 0.0],
    [5.3, 0.7, 2.5, 3.1, 2.3, 10.9, 3.7, 4.4, 3.1, 1.9, 1.2, 1.4, 3.8, 3.3, 2.5, 2.0, 1.7, 1.3, 1.1, 0.8, 0.6, 0.5, 0.4, 0.3, 0.2, 0.3, 0.1, 0.1, 0.0, 0.1, 0.0, 0.0],
    [9.5, 1.5, 4.0, 4.4, 3.2, 13.4, 4.9, 5.0, 3.5, 2.3, 1.5, 1.8, 4.5, 4.0, 3.0, 2.2, 1.6, 1.5, 1.4, 1.1, 0.9, 0.7, 0.6, 0.4, 0.3, 0.2, 0.1, 0.1, 0.1, 0.0, 0.0, 0.0],
    [5.7, 1.3, 3.2, 3.7, 2.7, 12.2, 3.4, 6.1, 3.9, 2.6, 1.7, 1.3, 4.2, 3.5, 2.7, 1.8, 1.5, 1.4, 1.2, 1.0, 0.8, 0.6, 0.5, 0.4, 0.3, 0.2, 0.2, 0.1, 0.3, 0.2, 0.1, 0.3],
    [6.5, 1.0, 3.3, 6.0, 2.9, 15.1, 3.2, 5.4, 3.7, 2.3, 1.3, 1.5, 4.3, 3.7, 2.3, 2.0, 1.6, 1.3, 1.0, 0.8, 0.6, 0.5, 0.4, 0.3, 0.2, 0.2, 0.1, 0.1, 0.1, 0.1, 0.0, 0.0],
    [4.9, 0.9, 2.7, 3.2, 2.2, 10.5, 3.6, 4.7, 3.4, 2.0, 1.2, 1.4, 3.9, 3.1, 2.6, 2.1, 1.6, 1.3, 1.2, 1.0, 0.9, 0.8, 0.7, 0.6, 0.5, 0.4, 0.3, 0.2, 0.1, 0.1, 0.0, 0.0],
    [5.2, 1.1, 2.9, 3.4, 2.4, 11.0, 3.9, 4.9, 3.3, 1.9, 1.3, 1.4, 3.7, 3.3, 2.8, 2.3, 1.7, 1.5, 1.3, 1.1, 1.0, 0.7, 0.6, 0.5, 0.4, 0.3, 0.2, 0.1, 0.1, 0.0, 0.0, 0.0],
    [6.0, 1.2, 3.4, 3.8, 2.6, 13.0, 3.5, 5.0, 3.6, 2.2, 1.4, 1.6, 4.6, 3.8, 3.0, 2.2, 1.8, 1.4, 1.1, 0.9, 0.7, 0.6, 0.5, 0.4, 0.3, 0.2, 0.1, 0.1, 0.0, 0.0, 0.0, 0.0],
    [4.6, 0.8, 2.3, 2.8, 1.9, 9.2, 5.7, 4.3, 2.8, 1.7, 1.1, 1.2, 3.3, 3.0, 2.3, 1.7, 1.4, 5.9, 1.8, 1.0, 0.7, 0.5, 0.4, 0.3, 0.2, 0.1, 0.1, 0.0, 0.0, 0.0, 0.0, 0.0],
    [5.5, 1.0, 3.0, 3.5, 2.5, 11.5, 3.6, 4.9, 3.4, 2.1, 1.3, 1.4, 4.0, 3.4, 2.7, 2.0, 1.6, 1.4, 1.3, 1.1, 1.0, 0.8, 0.8, 0.7, 0.6, 0.5, 0.4, 0.3, 0.3, 0.3, 0.3, 0.3],
    [6.3, 1.3, 3.6, 3.9, 2.8, 14.0, 3.3, 5.5, 3.8, 2.4, 1.5, 1.7, 4.7, 3.9, 3.2, 2.4, 1.9, 1.6, 1.4, 1.2, 1.0, 0.9, 7.5, 3.1, 0.7, 0.5, 0.3, 0.2, 0.1, 0.1, 0.0, 0.0],
    [5.4, 0.9, 2.8, 3.3, 2.3, 11.2, 3.7, 4.8, 3.3, 1.9, 1.2, 1.3, 3.9, 3.3, 2.6, 2.0, 1.5, 1.3, 1.2, 1.0, 0.9, 0.8, 0.7, 0.6, 0.5, 0.4, 0.3, 0.2, 0.2, 0.1, 0.2, 1.6],
    [5.9, 1.4, 3.3, 3.6, 2.6, 24.0, 8.5, 5.6, 3.5, 2.1, 1.4, 1.5, 4.1, 3.5, 2.8, 2.1, 1.7, 1.5, 1.4, 1.2, 1.1, 0.9, 0.8, 0.7, 0.6, 0.5, 0.4, 0.3, 0.4, 0.6, 2.1, 1.4],
    [4.7, 0.6, 2.5, 3.0, 2.0, 9.8, 3.4, 4.5, 3.1, 1.8, 1.1, 1.2, 3.6, 3.1, 2.5, 1.9, 1.5, 1.2, 1.1, 0.9, 0.8, 0.7, 0.6, 0.5, 0.4, 0.3, 0.2, 0.1, 0.1, 0.1, 0.0, 0.0],
    [5.3, 1.0, 2.9, 3.4, 2.4, 10.7, 3.6, 4.9, 3.4, 2.0, 1.3, 1.4, 4.0, 3.4, 2.7, 2.0, 1.6, 1.4, 1.3, 1.1, 1.0, 0.8, 0.8, 0.7, 0.6, 0.5, 0.4, 0.3, 0.3, 0.2, 0.2, 0.2],
    [6.8, 1.1, 3.5, 6.2, 2.7, 17.8, 3.2, 5.4, 3.7, 2.3, 1.4, 1.6, 6.0, 4.8, 3.9, 2.5, 1.8, 1.5, 1.3, 1.0, 0.9, 0.7, 0.6, 0.5, 0.4, 0.3, 0.2, 0.1, 0.1, 0.0, 0.0, 0.0],
    [5.0, 0.8, 2.6, 3.1, 2.1, 20.5, 8.1, 4.4, 3.0, 1.7, 1.1, 1.2, 3.4, 2.9, 2.4, 1.8, 1.4, 9.5, 3.0, 1.4, 0.9, 0.6, 0.5, 0.4, 0.3, 0.2, 0.1, 0.1, 0.0, 0.0, 0.0, 0.0],
    [5.6, 1.2, 3.1, 3.5, 2.5, 11.6, 3.7, 5.1, 3.5, 2.1, 1.3, 1.5, 4.2, 3.5, 2.8, 2.1, 1.7, 1.5, 1.3, 1.1, 1.0, 0.9, 0.8, 0.7, 0.6, 0.5, 0.4, 0.3, 0.3, 0.3, 0.2, 0.2],
    [5.2, 0.9, 2.7, 3.2, 2.2, 10.4, 3.5, 4.7, 3.2, 1.9, 1.2, 1.3, 3.8, 5.9, 2.6, 2.0, 1.6, 1.4, 1.2, 1.0, 0.9, 0.8, 0.7, 0.6, 0.5, 0.4, 0.3, 0.2, 0.2, 0.1, 0.1, 0.1],
    [7.5, 1.5, 3.8, 4.2, 3.0, 18.9, 3.0, 5.7, 3.9, 2.5, 1.6, 1.8, 5.4, 5.5, 3.6, 2.6, 2.0, 1.7, 1.5, 1.3, 1.1, 1.0, 0.9, 0.8, 0.7, 0.6, 0.5, 0.4, 0.3, 0.2, 0.1, 0.1],
    [5.4, 1.0, 2.9, 3.3, 2.4, 11.1, 3.6, 4.8, 3.4, 2.0, 1.3, 1.4, 4.0, 3.4, 2.7, 2.0, 1.6, 1.4, 1.3, 1.1, 2.4, 3.5, 1.6, 0.9, 0.6, 0.5, 0.4, 0.3, 0.2, 0.2, 0.1, 0.1],
    [4.5, 0.7, 2.2, 2.7, 1.8, 8.8, 3.9, 4.2, 2.9, 1.7, 1.0, 1.1, 3.3, 2.8, 2.3, 1.8, 1.4, 1.2, 1.1, 0.9, 0.8, 0.7, 0.6, 0.5, 0.4, 0.3, 2.2, 2.0, 1.8, 0.6, 0.2, 0.1],
    [5.7, 1.1, 3.2, 3.6, 2.6, 12.0, 3.5, 5.0, 3.5, 2.1, 1.4, 1.5, 4.2, 3.6, 2.8, 2.1, 1.7, 1.5, 1.4, 1.2, 1.0, 0.9, 0.8, 0.7, 0.6, 0.5, 0.4, 0.3, 0.3, 0.2, 0.2, 0.2],
    [5.1, 0.9, 2.8, 3.2, 2.3, 10.6, 3.7, 4.6, 3.3, 1.9, 1.2, 1.3, 3.8, 3.2, 2.6, 1.9, 1.5, 1.3, 1.2, 1.0, 0.9, 0.8, 0.7, 0.6, 0.5, 0.4, 0.3, 0.2, 0.2, 0.1, 0.1, 0.1],
    [6.1, 1.3, 3.4, 3.8, 2.7, 22.3, 3.1, 8.5, 3.8, 2.3, 1.5, 1.6, 4.5, 3.8, 3.0, 2.2, 1.8, 1.5, 1.4, 1.2, 1.1, 0.9, 0.8, 0.7, 0.6, 0.5, 0.4, 0.3, 1.5, 2.3, 2.0, 0.9],
    [5.3, 1.0, 2.9, 3.3, 2.4, 10.9, 3.6, 4.8, 3.4, 2.0, 1.3, 1.4, 3.9, 3.3, 2.7, 2.0, 1.6, 1.4, 1.3, 4.3, 1.0, 0.8, 0.8, 0.7, 0.6, 0.5, 0.4, 0.3, 0.3, 0.3, 0.3, 0.3],
    [5.8, 1.2, 3.1, 3.6, 2.6, 12.4, 3.4, 5.1, 3.6, 2.2, 1.4, 1.5, 4.3, 3.6, 2.9, 2.1, 1.7, 1.5, 1.3, 1.1, 1.0, 0.9, 0.8, 0.7, 0.6, 0.5, 0.4, 0.3, 0.2, 0.2, 0.1, 0.1],
    [4.8, 0.8, 2.5, 3.0, 2.1, 9.9, 3.7, 4.5, 3.1, 1.8, 1.1, 1.2, 3.5, 3.0, 2.5, 1.8, 1.4, 1.2, 1.1, 0.9, 0.8, 0.7, 0.6, 0.5, 0.4, 0.3, 0.2, 0.1, 0.1, 0.1, 0.0, 0.0],
    [5.5, 1.1, 3.0, 3.4, 2.5, 11.4, 3.6, 4.9, 3.4, 2.0, 1.3, 1.4, 4.0, 3.4, 2.7, 2.0, 1.6, 1.4, 1.3, 1.1, 1.0, 0.8, 6.8, 1.3, 0.6, 0.5, 0.4, 0.3, 0.3, 0.3, 0.3, 0.3],
    [6.4, 1.4, 3.5, 3.9, 2.8, 15.6, 3.3, 5.5, 3.8, 2.4, 1.5, 1.7, 4.8, 4.0, 3.1, 2.3, 1.8, 1.6, 1.4, 1.2, 1.1, 1.0, 0.9, 0.8, 0.7, 0.6, 0.5, 0.4, 0.3, 0.2, 0.2, 0.1],
    [4.9, 0.7, 2.4, 2.9, 0.6, 3.5, 5.5, 4.3, 3.0, 1.7, 1.1, 1.2, 3.4, 2.9, 2.4, 1.8, 1.4, 1.2, 1.1, 0.9, 0.8, 0.7, 0.6, 0.5, 0.4, 0.3, 0.2, 0.1, 0.1, 0.1, 0.0, 0.0],
    [5.6, 1.1, 3.1, 3.5, 2.5, 11.7, 3.6, 5.0, 3.5, 2.1, 1.4, 1.5, 4.2, 3.5, 2.8, 3.8, 4.1, 4.6, 5.3, 2.8, 1.1, 0.9, 0.8, 0.7, 0.6, 0.5, 0.4, 0.3, 0.3, 0.3, 0.4, 2.9],
    [5.2, 0.9, 2.7, 3.2, 2.3, 10.6, 3.6, 4.7, 3.3, 2.0, 1.2, 1.4, 3.9, 3.3, 2.6, 2.0, 1.5, 1.3, 1.2, 1.0, 0.9, 0.8, 0.7, 0.6, 0.5, 0.4, 0.3, 0.2, 0.2, 0.1, 0.1, 0.1],
    [5.7, 1.2, 3.2, 3.6, 2.6, 12.1, 3.5, 5.1, 3.6, 2.2, 1.4, 1.5, 4.3, 3.6, 2.9, 2.1, 1.7, 1.5, 1.4, 1.2, 1.0, 0.9, 0.8, 0.7, 0.6, 0.5, 0.4, 0.3, 0.3, 0.2, 0.2, 0.2],
    [5.0, 0.8, 2.6, 3.1, 2.2, 10.0, 3.7, 4.5, 3.2, 1.8, 1.2, 1.3, 3.6, 3.1, 2.5, 1.9, 1.5, 1.3, 1.2, 1.0, 0.9, 0.8, 0.7, 0.6, 0.5, 0.4, 0.3, 0.2, 3.3, 1.9, 1.6, 1.2],
    [6.6, 1.3, 3.6, 4.0, 2.9, 16.8, 3.2, 5.6, 3.9, 2.5, 1.6, 1.7, 5.0, 4.2, 3.3, 2.4, 1.9, 1.6, 1.5, 1.3, 1.1, 1.0, 0.9, 0.8, 0.7, 0.6, 0.5, 0.4, 0.3, 0.2, 0.1, 0.1],
    [5.4, 1.0, 2.9, 3.4, 2.4, 11.0, 3.6, 4.8, 3.4, 2.0, 1.3, 1.4, 4.0, 3.4, 2.7, 2.0, 1.6, 1.4, 1.3, 1.1, 1.0, 0.8, 0.8, 0.7, 0.6, 0.5, 0.4, 0.3, 0.3, 0.3, 0.3, 0.3],
    [4.6, 0.7, 2.3, 2.8, 1.9, 9.4, 3.8, 4.2, 2.9, 1.7, 1.0, 1.1, 3.3, 2.8, 2.3, 1.7, 1.3, 1.1, 1.0, 2.6, 0.7, 0.6, 0.5, 0.4, 0.3, 0.2, 0.1, 0.1, 0.0, 0.0, 0.0, 0.0],
    [5.9, 1.2, 3.3, 3.7, 2.7, 12.8, 3.4, 5.2, 3.7, 2.3, 1.5, 1.6, 4.4, 3.7, 3.0, 2.2, 1.8, 1.5, 1.4, 1.2, 1.1, 0.9, 0.8, 0.7, 0.6, 0.5, 0.4, 0.3, 0.2, 0.2, 0.1, 0.1],
    [5.3, 1.0, 2.8, 3.3, 2.3, 10.8, 3.6, 4.8, 3.3, 2.0, 1.3, 1.4, 3.9, 3.3, 2.6, 2.0, 1.6, 1.4, 1.3, 1.1, 1.0, 0.8, 0.8, 0.7, 0.6, 0.5, 0.4, 0.3, 0.3, 0.3, 0.3, 0.3],
    [6.9, 1.4, 3.7, 4.1, 3.0, 19.5, 4.5, 5.3, 3.8, 2.4, 1.5, 1.7, 4.9, 4.1, 3.2, 2.3, 1.8, 6.8, 1.6, 1.3, 1.1, 1.0, 0.9, 7.0, 0.7, 0.6, 0.5, 0.4, 0.3, 0.2, 0.1, 0.1],
    [5.1, 0.9, 2.7, 3.1, 2.2, 10.3, 3.7, 4.6, 3.2, 1.9, 1.2, 1.3, 3.7, 3.2, 2.5, 1.9, 1.5, 1.3, 1.2, 1.0, 0.9, 0.8, 0.7, 0.6, 0.5, 0.4, 0.3, 0.2, 0.2, 0.1, 0.1, 0.0],
    [5.8, 1.1, 3.2, 3.6, 2.6, 12.3, 3.5, 5.1, 3.6, 2.2, 1.4, 1.5, 4.3, 3.6, 2.9, 2.1, 1.7, 1.5, 1.4, 1.2, 1.0, 0.9, 0.8, 0.7, 0.6, 0.5, 0.4, 0.3, 0.3, 0.2, 0.2, 0.2],
]

member_colors = [
    "#d4a0a8", "#d0a0e0", "#e07880", "#a05030", "#a0d0e8", "#8060b0", "#c0c020", "#d8b050", "#80b870", "#20c070",
    "#c05070", "#b020b0", "#e03050", "#a0a8e0", "#c8b080", "#2060c0", "#c0c060", "#b0e050", "#60a0e0", "#60e0f0",
    "#c04020", "#a0c8a0", "#c040e0", "#207060", "#b02020", "#c09880", "#903080", "#603080", "#904050", "#105090",
    "#50c090", "#30e8e0", "#6020e0", "#a09050", "#80d080", "#c0e080", "#705020", "#e06060", "#302880", "#50d040",
    "#b0d8c8", "#a02840", "#e090d0", "#7098b0", "#a030c0", "#20e090", "#e0e0a0", "#409898", "#508040", "#7050e0",
]

MONO = "DejaVu Sans Mono"
W, H = 740, 700


def fx(px):
    return px / W


def fy(py):
    return 1 - py / H


fig = plt.figure(figsize=(7.4, 7.0), dpi=100)
fig.patch.set_facecolor("white")

ax = fig.add_axes([fx(50), fy(597), fx(690) - fx(50), fy(0) - fy(597)])
ax.set_xlim(0, 192)
ax.set_ylim(-52.14, 33.14)
for s in ax.spines.values():
    s.set_visible(False)

# precipitation on a right-hand scale shifted by 45
ax2 = ax.twinx()
ax2.set_ylim(-52.14 + 45, 33.14 + 45)
for s in ax2.spines.values():
    s.set_visible(False)

# grid
for d in range(0, 193, 24):
    ax.axvline(d, color="#c0c0c0", lw=1.5, zorder=0)
for v in range(-45, 31, 5):
    if v == 0:
        ax.axhline(v, color="#808080", lw=2.2, zorder=0)
    elif v % 10 == 0:
        ax.axhline(v, color="#c0c0c0", lw=1.6, zorder=0)
    else:
        ax.axhline(v, color="#c0c0c0", lw=1.1, zorder=0)

# members
for i in range(50):
    c = member_colors[i]
    kw = dict(color=c, lw=0.7, marker="+", ms=3, mew=0.6, zorder=2)
    ax.plot(hours, t850_members[i], **kw)
    ax.plot(hours, t500_members[i], **kw)
    ax2.plot(precip_hours, rr_members[i], **kw)

# control and mean
ax.plot(hours, t850_ctrl, color="black", lw=2.0, zorder=3)
ax.plot(hours, t500_ctrl, color="black", lw=2.0, zorder=3)
ax2.plot(precip_hours, rr_ctrl, color="black", lw=2.0, zorder=3)
ax.plot(hours, t850_mean, color="red", lw=3.0, zorder=4)
ax.plot(hours, t500_mean, color="red", lw=3.0, zorder=4)
ax2.plot(precip_hours, rr_mean, color="red", lw=3.0, zorder=4)

# ticks
ax.set_yticks(range(-45, 31, 5))
ax.tick_params(axis="y", length=0, pad=22, labelsize=7.5)
for lab in ax.get_yticklabels():
    lab.set_horizontalalignment("left")
    lab.set_fontfamily(MONO)
ax2.set_yticks(range(0, 76, 5))
ax2.tick_params(axis="y", length=0, pad=10, labelsize=7.5)
for lab in ax2.get_yticklabels():
    lab.set_fontfamily(MONO)

ax.set_xticks(range(0, 193, 24))
ax.set_xticklabels(day_labels, rotation=90, fontsize=7.5, fontfamily=MONO, ha="left", va="top")
ax.tick_params(axis="x", length=0, pad=3)

# section labels
ax.text(3, 8.4, "Temp. 850hPa", fontsize=7.5, fontfamily=MONO, va="center", zorder=5)
ax.text(3, -13.0, "Temp. 500hPa", fontsize=7.5, fontfamily=MONO, va="center", zorder=5)
ax.text(3, -34.4, "Précipitations", fontsize=7.5, fontfamily=MONO, va="center", zorder=5)

fig.text(fx(20), fy(606), "(°C)", fontsize=7.5, fontfamily=MONO, va="center")
fig.text(fx(700), fy(606), "(mm)", fontsize=7.5, fontfamily=MONO, va="center")

# legend
fig.add_artist(Line2D([fx(35), fx(66)], [fy(638), fy(638)], color="red", lw=3.5))
fig.text(fx(75), fy(638), "Moyenne des scénarios", fontsize=7.5, fontfamily=MONO, va="center")
fig.add_artist(Line2D([fx(227), fx(258)], [fy(638), fy(638)], color="black", lw=3.5))
fig.text(fx(266), fy(638), "Contrôle/Det", fontsize=7.5, fontfamily=MONO, va="center")
fig.text(fx(424), fy(651), "50 Perts.", fontsize=7.5, fontfamily=MONO, va="center", ha="right")

for k in range(25):
    x0 = 430 + k * 11
    fig.add_artist(Rectangle((fx(x0), fy(651)), fx(10), 6 / H, color=member_colors[k], lw=0))
    fig.add_artist(Rectangle((fx(x0), fy(657)), fx(10), 6 / H, color=member_colors[k + 25], lw=0))
    fig.text(fx(x0 + 5), fy(639), "%02d" % (k + 1), fontsize=6.3, fontfamily=MONO, ha="center", va="center")
    fig.text(fx(x0 + 5), fy(663), "%02d" % (k + 26), fontsize=6.3, fontfamily=MONO, ha="center", va="center")

# title box
fig.add_artist(Rectangle((fx(20), fy(697)), fx(420), 30 / H, fill=False, ec="black", lw=1.2))
fig.text(fx(30), fy(678), "Diagramme ensembles ECMWF/CEP 0.25° sur 192h : 53.7N 10W",
         fontsize=8.4, fontfamily=MONO, fontweight="bold", va="center")
fig.text(fx(30), fy(691), "Températures 850hPa et 500hPa (°C) , précipitations (mm)",
         fontsize=7.2, fontfamily=MONO, va="center")
fig.text(fx(450), fy(676), "Ensemble ECMWF/CEP du 17/12/2025 - 00Z", fontsize=7.5, fontfamily=MONO, va="center")
fig.text(fx(450), fy(691), "Copyright 2025 Meteociel.fr - ECMWF", fontsize=7.9, fontfamily=MONO,
         fontweight="bold", va="center")

fig.savefig("out.png", dpi=100, facecolor="white")
